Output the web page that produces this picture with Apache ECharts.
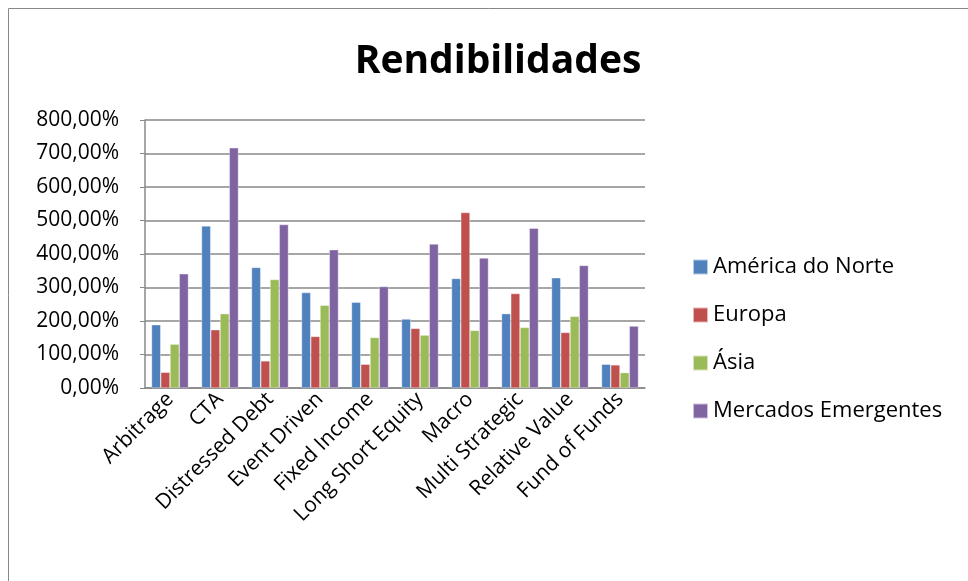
<!DOCTYPE html>
<html><head><meta charset="utf-8">
<script src="https://cdn.jsdelivr.net/npm/echarts@6/dist/echarts.min.js"></script>
<style>html,body{margin:0;padding:0;background:#fff}#c{width:968px;height:581px}</style>
</head><body><div id="c"></div>
<script>
const categories = ['Arbitrage','CTA','Distressed Debt','Event Driven','Fixed Income','Long Short Equity','Macro','Multi Strategic','Relative Value','Fund of Funds'];
const americaNorte = [189,484,360,285,256,206,327,222,329,71];
const europa = [47,174,81,154,71,178,524,282,166,69];
const asia = [131,222,324,247,151,158,172,181,214,46];
const mercadosEmergentes = [341,717,488,413,303,430,388,477,366,185];
const seriesNames = ['América do Norte','Europa','Ásia','Mercados Emergentes'];
const colors = ['#4F81BD','#C0504D','#9BBB59','#8064A2'];
const FONT = 'Open Sans';
const chart = echarts.init(document.getElementById('c'));
const mk = (name, data, i) => ({
  name, type:'bar', data, barGap:'0%', barCategoryGap:'26%',
  itemStyle:{color:colors[i], borderColor:'rgba(255,255,255,0.6)', borderWidth:0.6},
  emphasis:{disabled:true}
});
chart.setOption({
  animation:false,
  textStyle:{fontFamily:FONT},
  graphic:[{type:'rect', shape:{x:8.5,y:8.5,width:1000,height:600}, style:{fill:'none', stroke:'#888', lineWidth:1}}],
  title:{text:'Rendibilidades', left:493, top:37, textAlign:'center',
    textStyle:{fontFamily:FONT, fontSize:39, fontWeight:'bold', color:'#000'}},
  legend:{orient:'vertical', left:687, top:249, itemGap:22, itemWidth:15, itemHeight:15,
    icon:'rect', textStyle:{fontFamily:FONT, fontSize:22, lineHeight:26, color:'#000'}},
  grid:{left:145, right:323, top:120, bottom:193, containLabel:false},
  xAxis:{type:'category', data:categories,
    axisLine:{lineStyle:{color:'#888', width:1.5}}, axisTick:{show:false},
    axisLabel:{rotate:45, fontSize:21, color:'#000', fontFamily:FONT, margin:8, interval:0}},
  yAxis:{type:'value', min:0, max:800, interval:100,
    axisLine:{show:true, lineStyle:{color:'#888', width:1.5}},
    axisTick:{show:true, length:5, lineStyle:{color:'#888'}},
    splitLine:{lineStyle:{color:'#888', width:1.5}},
    axisLabel:{fontSize:21, color:'#000', fontFamily:FONT, margin:26,
      formatter:v => v.toFixed(2).replace('.',',') + '%'}},
  series:[mk(seriesNames[0],americaNorte,0),mk(seriesNames[1],europa,1),mk(seriesNames[2],asia,2),mk(seriesNames[3],mercadosEmergentes,3)]
});
</script></body></html>
